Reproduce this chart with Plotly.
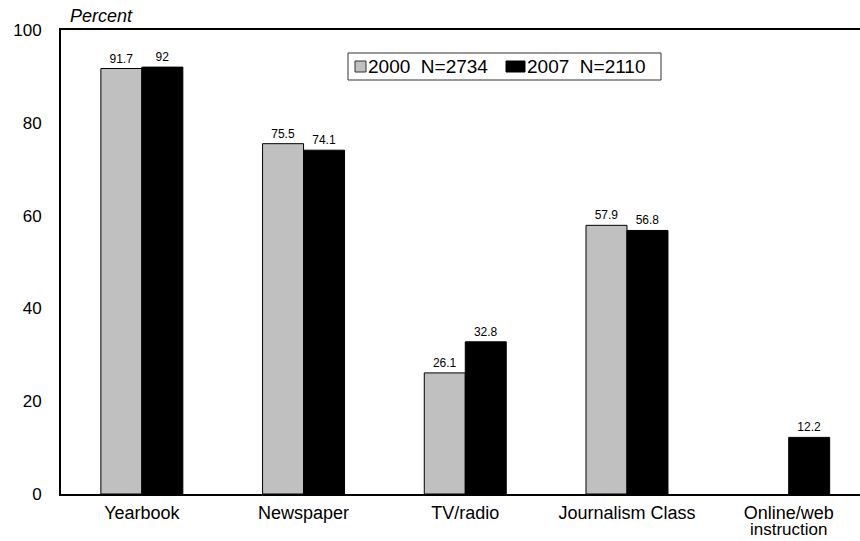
import plotly.graph_objects as go

# Survey categories and percentages for the two survey years
categories = ["Yearbook", "Newspaper", "TV/radio", "Journalism Class", "Online/web instruction"]
tick_labels = ["Yearbook", "Newspaper", "TV/radio", "Journalism Class", "Online/web"]
second_line = {"Online/web instruction": "instruction"}
values_2000 = [91.7, 75.5, 26.1, 57.9, None]
values_2007 = [92, 74.1, 32.8, 56.8, 12.2]
series_names = ["2000&nbsp;&nbsp;N=2734", "2007&nbsp;&nbsp;N=2110"]
series_colors = ["#C0C0C0", "#000000"]
y_ticks = [0, 20, 40, 60, 80, 100]

FONT = "Liberation Sans, Arial, Helvetica, sans-serif"

# plot area in pixels (used to place the hand-drawn legend box)
L, R, T, B = 61, 860, 30, 494
def px(x):
    return (x - L) / (R - L)
def py(y):
    return (B - y) / (B - T)

def labels(vals):
    return ["" if v is None else f"{v:g}" for v in vals]

fig = go.Figure()
for name, vals, color in zip(series_names, [values_2000, values_2007], series_colors):
    fig.add_trace(go.Bar(
        x=categories, y=vals, name=name, showlegend=False,
        marker=dict(color=color, line=dict(color="#000000", width=1)),
        text=labels(vals), textposition="outside",
        textfont=dict(size=12, color="#000000", family=FONT),
        cliponaxis=False,
    ))

# legend: framed box with two swatches and their labels
shapes = [
    dict(type="rect", xref="paper", yref="paper",
         x0=px(348), x1=px(661), y0=py(80), y1=py(53),
         line=dict(color="#333333", width=1), fillcolor="white", layer="above"),
    dict(type="rect", xref="paper", yref="paper",
         x0=px(355), x1=px(366), y0=py(72), y1=py(61),
         line=dict(color="#333333", width=1), fillcolor=series_colors[0], layer="above"),
    dict(type="rect", xref="paper", yref="paper",
         x0=px(506), x1=px(525), y0=py(72), y1=py(61),
         line=dict(color="#000000", width=1), fillcolor=series_colors[1], layer="above"),
]
annotations = [
    dict(text=series_names[0], xref="paper", yref="paper", x=px(366), y=py(66),
         xanchor="left", yanchor="middle", showarrow=False,
         font=dict(size=19, family=FONT, color="#000000")),
    dict(text=series_names[1], xref="paper", yref="paper", x=px(525), y=py(66),
         xanchor="left", yanchor="middle", showarrow=False,
         font=dict(size=19, family=FONT, color="#000000")),
    dict(text="<i>Percent</i>", xref="paper", yref="paper", x=px(68), y=py(16),
         xanchor="left", yanchor="middle", showarrow=False,
         font=dict(size=18, family=FONT, color="#000000")),
]
# second line of wrapped category labels, set tight under the first
for cat, txt in second_line.items():
    annotations.append(dict(
        text=txt, xref="x", yref="paper", x=cat, y=py(529),
        xanchor="center", yanchor="middle", showarrow=False,
        font=dict(size=17, family=FONT, color="#000000")))

fig.update_layout(
    width=860, height=541,
    margin=dict(l=L, r=860 - R, t=T, b=541 - B),
    paper_bgcolor="white", plot_bgcolor="white",
    font=dict(family=FONT, size=17, color="#000000"),
    barmode="group", bargap=0.493, bargroupgap=0,
    xaxis=dict(
        range=[-0.5, 4.441], showline=True, linecolor="#000000", linewidth=2,
        mirror=True, ticks="", showgrid=False,
        tickmode="array", tickvals=categories, ticktext=tick_labels,
        tickfont=dict(size=18), ticklabelstandoff=1,
    ),
    yaxis=dict(
        range=[0, 100], tickvals=y_ticks, showline=True, linecolor="#000000",
        linewidth=2, ticks="", showgrid=False, zeroline=False,
        tickfont=dict(size=17), ticklabelstandoff=14,
    ),
    shapes=shapes,
    annotations=annotations,
)

fig.write_html("out.html")
